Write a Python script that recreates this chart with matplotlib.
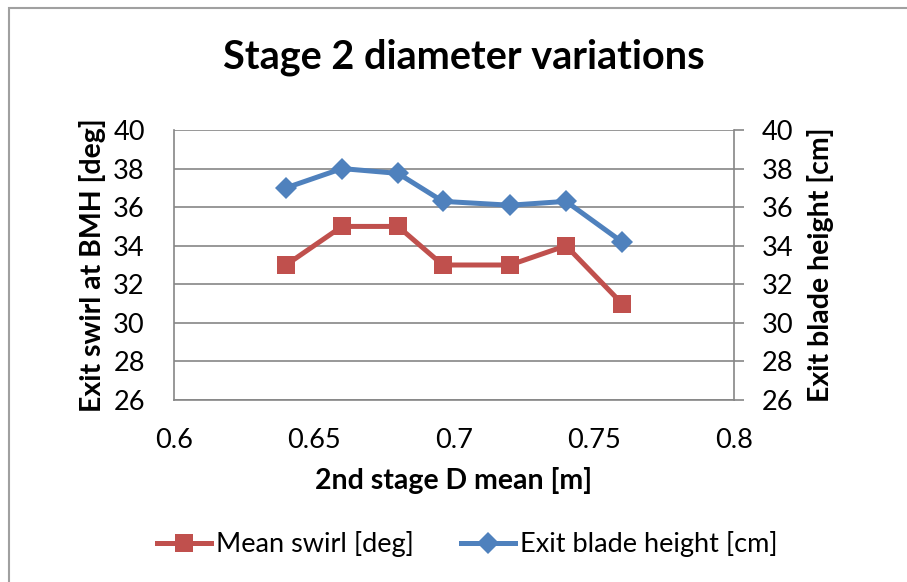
import matplotlib
matplotlib.use("Agg")
import matplotlib.pyplot as plt
from matplotlib.patches import Rectangle
from matplotlib.lines import Line2D

plt.rcParams['font.family'] = ['Lato', 'DejaVu Sans']

d_mean = [0.64, 0.66, 0.68, 0.696, 0.72, 0.74, 0.76]
mean_swirl = [33, 35, 35, 33, 33, 34, 31]
blade_height = [37.0, 38.0, 37.75, 36.3, 36.1, 36.3, 34.2]
x_ticks = [0.6, 0.65, 0.7, 0.75, 0.8]
x_tick_labels = ["0.6", "0.65", "0.7", "0.75", "0.8"]
y_ticks = [26, 28, 30, 32, 34, 36, 38, 40]

RED = "#C0504D"
BLUE = "#4F81BD"
GRID = "#868686"

W, H = 907, 582
fig = plt.figure(figsize=(W / 100, H / 100), dpi=100)

# chart border
fig.patches.append(Rectangle((9 / W, -0.1), 1.2, (H - 8) / H + 0.1, transform=fig.transFigure,
                             fill=False, edgecolor="#A0A0A0", linewidth=1.5))

L, R, T, B = 174, 734, 130, 400
ax = fig.add_axes([L / W, (H - B) / H, (R - L) / W, (B - T) / H])
ax2 = ax.twinx()

ax.plot(d_mean, mean_swirl, color=RED, lw=3.6, marker='s', markersize=13.5,
        markeredgewidth=0, label="Mean swirl [deg]", zorder=3)
ax2.plot(d_mean, blade_height, color=BLUE, lw=3.6, marker='D', markersize=11,
         markeredgewidth=0, label="Exit blade height [cm]", zorder=3)

for a in (ax, ax2):
    a.set_xlim(0.6, 0.8)
    a.set_ylim(26, 40)
    a.set_yticks(y_ticks)
    for s in a.spines.values():
        s.set_visible(False)

ax.set_xticks(x_ticks)
ax.set_xticklabels(x_tick_labels)
ax.grid(axis='y', color=GRID, lw=1.2)
ax.set_axisbelow(True)
for side in ('left', 'bottom'):
    ax.spines[side].set_visible(True)
    ax.spines[side].set_color(GRID)
    ax.spines[side].set_linewidth(1.2)
ax2.spines['right'].set_visible(True)
ax2.spines['right'].set_color(GRID)
ax2.spines['right'].set_linewidth(1.2)

FS = 19.5
ax.tick_params(axis='x', length=0, labelsize=FS, pad=20)
ax.tick_params(axis='y', length=0, labelsize=FS, pad=21)
ax2.tick_params(axis='y', length=7, color=GRID, width=1.2, labelsize=FS, pad=13)

LFS = 20.5
fig.text(93 / W, 1 - 265 / H, "Exit swirl at BMH [deg]", rotation=90, ha='center', va='center',
         fontsize=LFS, fontweight='bold')
fig.text(820 / W, 1 - 265 / H, "Exit blade height [cm]", rotation=90, ha='center', va='center',
         fontsize=LFS, fontweight='bold')
fig.text(454 / W, 1 - 489 / H, "2nd stage D mean [m]", ha='center', va='baseline',
         fontsize=LFS, fontweight='bold')

fig.text(464 / W, 1 - 68 / H, "Stage 2 diameter variations", ha='center', va='baseline',
         fontsize=28.5, fontweight='bold')

handles = [
    Line2D([], [], color=RED, lw=3.6, marker='s', markersize=13.5, markeredgewidth=0),
    Line2D([], [], color=BLUE, lw=3.6, marker='D', markersize=11, markeredgewidth=0),
]
fig.legend(handles, ["Mean swirl [deg]", "Exit blade height [cm]"], loc='center',
           bbox_to_anchor=(467 / W, 1 - 544 / H), ncol=2, frameon=False, fontsize=FS,
           handlelength=2.0, handletextpad=0.18, columnspacing=1.75, numpoints=1,
           borderpad=0, borderaxespad=0)

fig.savefig("out.png", dpi=100)
